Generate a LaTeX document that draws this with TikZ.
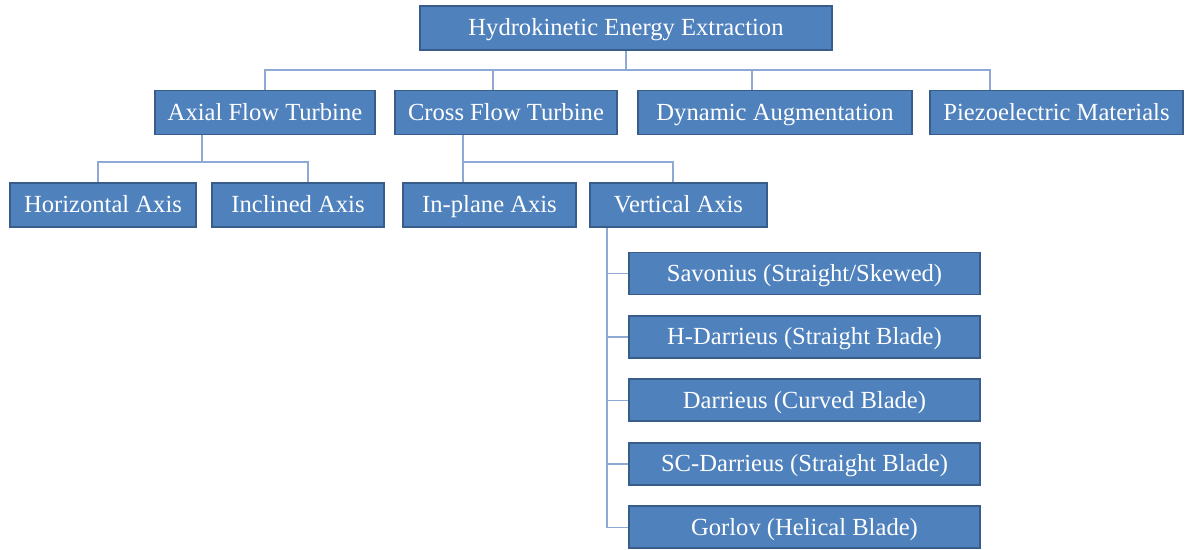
\documentclass[tikz,border=0pt]{standalone}
\usepackage{fontspec}
\setmainfont{Liberation Serif}
\usepackage{tikz}
\usetikzlibrary{positioning}

\definecolor{boxfill}{HTML}{4F81BD}
\definecolor{boxline}{HTML}{385D8A}
\definecolor{linkcol}{HTML}{8DA9D4}

\begin{document}
\begin{tikzpicture}[x=0.02cm, y=-0.02cm,
    box/.style={draw=boxline, fill=boxfill, line width=1.1pt, text=white,
        font=\fontsize{14}{16}\selectfont, inner sep=0pt, text height=12pt, text depth=3pt,
        minimum height=44*0.02cm},
    link/.style={draw=linkcol, line width=0.8pt}]
    \useasboundingbox (0,0) rectangle (1187,550);

    % level 0 and 1
    \node[box, minimum width=412*0.02cm] (root) at (626,28) {Hydrokinetic Energy Extraction};
    \node[box, minimum width=220*0.02cm] (axial) at (265,112.5) {Axial Flow Turbine};
    \node[box, minimum width=222*0.02cm] (cross) at (506,112.5) {Cross Flow Turbine};
    \node[box, minimum width=274*0.02cm] (dynamic) at (775,112.5) {Dynamic Augmentation};
    \node[box, minimum width=253*0.02cm] (piezo) at (1056.5,112.5) {Piezoelectric Materials};

    % level 2
    \node[box, minimum width=186*0.02cm] (horizontal) at (103,205) {Horizontal Axis};
    \node[box, minimum width=172*0.02cm] (inclined) at (298,205) {Inclined Axis};
    \node[box, minimum width=173*0.02cm] (inplane) at (489.5,205) {In-plane Axis};
    \node[box, minimum width=177*0.02cm] (vertical) at (678.5,205) {Vertical Axis};

    % vertical axis types
    \node[box, minimum width=351*0.02cm, minimum height=42*0.02cm] (savonius) at (804.5,273.5) {Savonius (Straight/Skewed)};
    \node[box, minimum width=351*0.02cm, minimum height=42*0.02cm, below=19.5*0.02cm of savonius] (hdarrieus) {H-Darrieus (Straight Blade)};
    \node[box, minimum width=351*0.02cm, minimum height=42*0.02cm, below=19.5*0.02cm of hdarrieus] (darrieus) {Darrieus (Curved Blade)};
    \node[box, minimum width=351*0.02cm, minimum height=42*0.02cm, below=19.5*0.02cm of darrieus] (scdarrieus) {SC-Darrieus (Straight Blade)};
    \node[box, minimum width=351*0.02cm, minimum height=42*0.02cm, below=19.5*0.02cm of scdarrieus] (gorlov) {Gorlov (Helical Blade)};

    % buses
    \coordinate (bus1) at (0,70);
    \coordinate (bus2) at (0,162);

    \draw[link] (root.south) -- (root.south |- bus1);
    \draw[link] (axial.north) -- (axial.north |- bus1) -- ([xshift=-1.33cm]piezo.north |- bus1) -- ([xshift=-1.33cm]piezo.north);
    \draw[link] ([xshift=-0.26cm]cross.north) -- ([xshift=-0.26cm]cross.north |- bus1);
    \draw[link] ([xshift=-0.46cm]dynamic.north) -- ([xshift=-0.46cm]dynamic.north |- bus1);

    \draw[link] ([xshift=-1.26cm]axial.south) -- ([xshift=-1.26cm]axial.south |- bus2);
    \draw[link] ([xshift=-0.1cm]horizontal.north) |- ([xshift=0.2cm]inclined.north |- bus2) -- ([xshift=0.2cm]inclined.north);
    \draw[link] ([xshift=-0.86cm]cross.south) -- ([xshift=-0.86cm]cross.south |- inplane.north);
    \draw[link] ([xshift=-0.86cm]cross.south |- bus2) -| ([xshift=-0.11cm]vertical.north);

    \draw[link] ([xshift=-1.43cm]vertical.south) |- (gorlov.west);
    \foreach \n in {savonius,hdarrieus,darrieus,scdarrieus}
        \draw[link] ([xshift=-1.43cm]vertical.south |- \n.west) -- (\n.west);
\end{tikzpicture}
\end{document}
